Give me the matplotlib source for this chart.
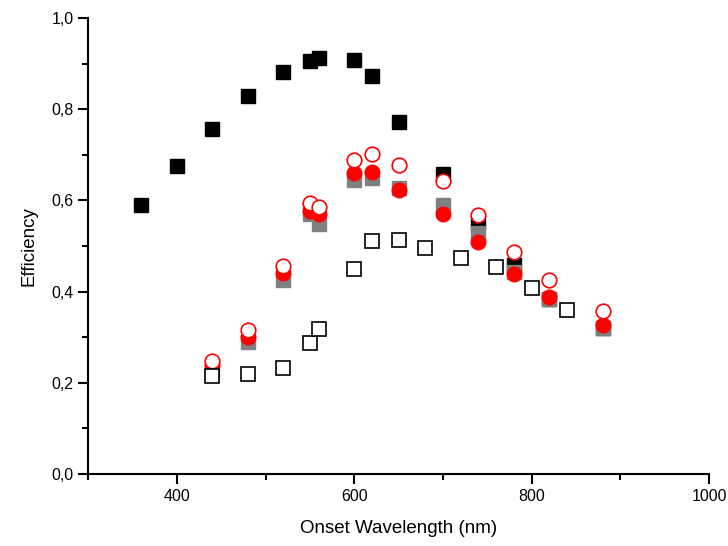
import matplotlib
matplotlib.use("Agg")
import matplotlib.pyplot as plt
from matplotlib.ticker import MultipleLocator, FuncFormatter

# black filled squares
x_black = [360, 400, 440, 480, 520, 550, 560, 600, 620, 650, 700, 740, 780, 820, 880]
y_black = [0.590, 0.676, 0.757, 0.830, 0.882, 0.905, 0.912, 0.907, 0.873, 0.772,
           0.657, 0.551, 0.458, 0.384, 0.320]

# grey filled squares
x_grey = [440, 480, 520, 550, 560, 600, 620, 650, 700, 740, 780, 820, 880]
y_grey = [0.226, 0.290, 0.426, 0.570, 0.549, 0.645, 0.650, 0.628, 0.590, 0.528,
          0.442, 0.383, 0.320]

# red filled circles
x_red = [440, 480, 520, 550, 560, 600, 620, 650, 700, 740, 780, 820, 880]
y_red = [0.239, 0.300, 0.440, 0.576, 0.571, 0.660, 0.663, 0.623, 0.570, 0.508,
         0.438, 0.389, 0.326]

# red open circles
x_red_open = [440, 480, 520, 550, 560, 600, 620, 650, 700, 740, 780, 820, 880]
y_red_open = [0.248, 0.316, 0.455, 0.595, 0.585, 0.689, 0.702, 0.678, 0.642, 0.568,
              0.486, 0.426, 0.358]

# black open squares
x_open = [440, 480, 520, 550, 560, 600, 620, 650, 680, 720, 760, 800, 840]
y_open = [0.215, 0.219, 0.233, 0.287, 0.317, 0.449, 0.510, 0.513, 0.495, 0.473,
          0.453, 0.408, 0.360]

plt.rcParams["font.family"] = ["Liberation Sans", "DejaVu Sans"]

fig = plt.figure(figsize=(7.28, 5.46), dpi=100)
ax = fig.add_axes([0.121, 0.132, 0.853, 0.835])

ax.plot(x_black, y_black, ls="none", marker="s", ms=9.5, color="black", mec="black", zorder=2)
ax.plot(x_grey, y_grey, ls="none", marker="s", ms=9.5, color="#808080", mec="#808080", zorder=3)
ax.plot(x_red, y_red, ls="none", marker="o", ms=10.5, color="red", mec="red", zorder=4)
ax.plot(x_red_open, y_red_open, ls="none", marker="o", ms=10.5, mfc="white", mec="red",
        mew=1.2, zorder=5)
ax.plot(x_open, y_open, ls="none", marker="s", ms=9.5, mfc="white", mec="black",
        mew=1.2, zorder=6)

ax.set_xlim(300, 1000)
ax.set_ylim(0, 1.0)
ax.xaxis.set_major_locator(MultipleLocator(200))
ax.xaxis.set_minor_locator(MultipleLocator(100))
ax.yaxis.set_major_locator(MultipleLocator(0.2))
ax.yaxis.set_minor_locator(MultipleLocator(0.1))
ax.yaxis.set_major_formatter(FuncFormatter(lambda v, p: f"{v:.1f}".replace(".", ",")))

for s in ["top", "right"]:
    ax.spines[s].set_visible(False)
for s in ["left", "bottom"]:
    ax.spines[s].set_linewidth(1.5)
ax.tick_params(which="major", direction="out", length=7, width=1.5, labelsize=11.5)
ax.tick_params(which="minor", direction="out", length=4, width=1.5)

ax.set_xlabel("Onset Wavelength (nm)", fontsize=13.5, labelpad=12)
ax.set_ylabel("Efficiency", fontsize=13.5, labelpad=10)

fig.savefig("out.png", dpi=100)
